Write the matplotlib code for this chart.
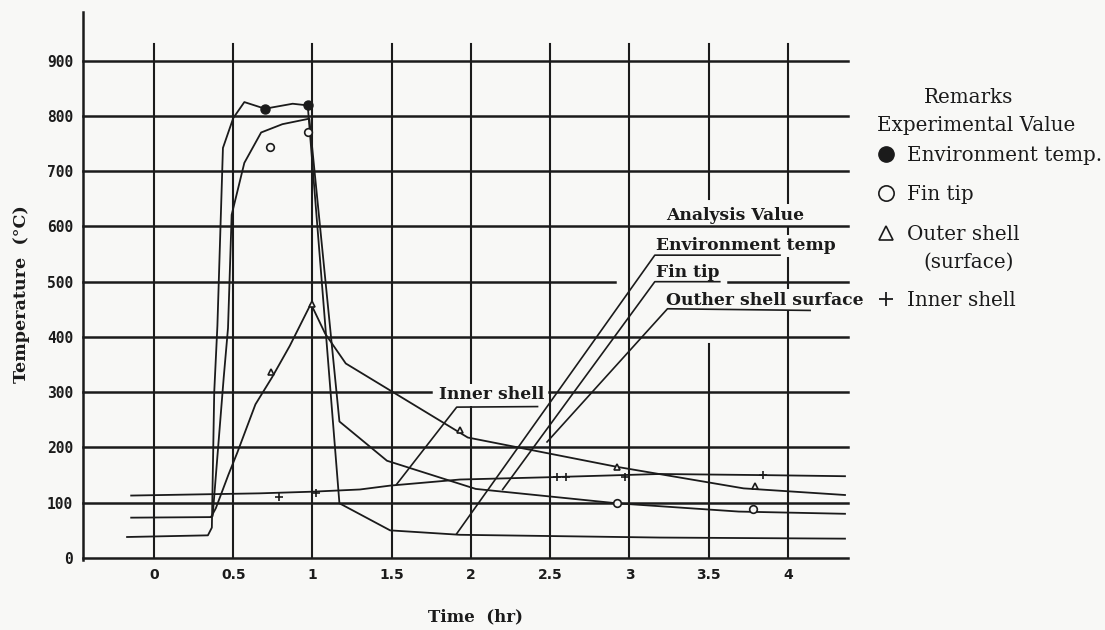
import matplotlib
matplotlib.use("Agg")
import matplotlib.pyplot as plt
from matplotlib.lines import Line2D

# analysis curves: time (hr) / temperature (C)
env_t = [-0.17, 0.34, 0.365, 0.38, 0.40, 0.435, 0.50, 0.57, 0.70, 0.875, 0.97, 1.17, 1.49, 1.93, 3.19, 4.36]
env_T = [38, 41, 55, 300, 420, 742, 796, 825, 813, 822, 819, 99, 50, 42, 37, 35]

fin_t = [-0.144, 0.355, 0.37, 0.44, 0.467, 0.49, 0.57, 0.676, 0.81, 0.98, 1.17, 1.47, 2.03, 2.92, 3.69, 4.36]
fin_T = [73, 74, 76, 327, 416, 621, 715, 770, 785, 795, 247, 176, 125, 99, 84, 80]

outer_t = [0.36, 0.39, 0.47, 0.526, 0.577, 0.64, 0.745, 0.857, 0.99, 1.08, 1.21, 1.98, 2.92, 3.72, 4.36]
outer_T = [74, 90, 151, 191, 230, 278, 327, 384, 460, 406, 352, 218, 165, 126, 114]

inner_t = [-0.144, 0.665, 1.0, 1.30, 1.49, 1.93, 2.47, 3.19, 3.84, 4.36]
inner_T = [113, 117, 120, 124, 131, 142, 146, 152, 150, 148]

# experimental values
exp_env_t = [0.70, 0.97]
exp_env_T = [813, 819]
exp_fin_t = [0.73, 0.97, 2.92, 3.78]
exp_fin_T = [744, 771, 99, 89]
exp_outer_t = [0.74, 1.0, 1.93, 2.92, 3.79]
exp_outer_T = [336, 460, 232, 165, 131]
exp_inner_t = [0.79, 1.02, 2.54, 2.60, 2.97, 3.84]
exp_inner_T = [111, 117, 147, 147, 146, 150]

x_ticks = [0, 0.5, 1, 1.5, 2, 2.5, 3, 3.5, 4]
x_labels = ["0", "0.5", "1", "1.5", "2", "2.5", "3", "3.5", "4"]
y_ticks = [0, 100, 200, 300, 400, 500, 600, 700, 800, 900]
y_labels = ["0", "100", "200", "300", "400", "500", "600", "700", "800", "900"]

# labels inside the plot and their leader lines (data coords)
ann_labels = ["Environment temp", "Fin tip", "Outher shell surface"]
ann_text_t = [3.17, 3.17, 3.23]
ann_text_T = [557, 509, 458]
ann_lead_t = [[1.91, 3.16, 3.95], [2.20, 3.16, 3.57], [2.48, 3.24, 4.14]]
ann_lead_T = [[44, 548, 548], [124, 500, 500], [210, 451, 448]]
inner_lead_t = [1.53, 1.91, 2.42]
inner_lead_T = [133, 273, 274]

legend_labels = ["Environment temp.", "Fin tip", "Outer shell", "Inner shell"]

XMIN, XMAX = -0.448, 4.379
YMAX = 988
bg = "#f8f8f6"
ink = "#1b1b1b"
serif = "DejaVu Serif"
lab_fs = 12.3
leg_fs = 14.3

fig = plt.figure(figsize=(11.05, 6.3), dpi=100, facecolor=bg)
ax = fig.add_axes([83 / 1105, 72 / 630, 765 / 1105, 546 / 630])
ax.set_facecolor(bg)
ax.set_xlim(XMIN, XMAX)
ax.set_ylim(0, YMAX)
for s in ax.spines.values():
    s.set_visible(False)

# hand drawn style grid
h_gaps = {300: [(XMIN, 1.75), (2.49, XMAX)], 500: [(XMIN, 2.91), (3.62, XMAX)]}
for v in y_ticks:
    for a, b in h_gaps.get(v, [(XMIN, XMAX)]):
        ax.plot([a, b], [v, v], color=ink, lw=1.8, zorder=4, clip_on=False)
v_gaps = {3.5: [(0, 387), (649, 930)]}
for t in x_ticks:
    for a, b in v_gaps.get(t, [(0, 930)]):
        ax.plot([t, t], [a, b], color=ink, lw=1.5, zorder=1)
ax.plot([XMIN, XMIN], [-4, YMAX], color=ink, lw=1.8, clip_on=False, zorder=4)

ax.set_xticks(x_ticks)
ax.set_xticklabels(x_labels, fontsize=10, fontweight="bold", family="DejaVu Sans")
ax.set_yticks(y_ticks)
ax.set_yticklabels(y_labels, fontsize=10.5, fontweight="bold", family="DejaVu Sans Mono")
ax.tick_params(length=0, pad=7, colors=ink)

# analysis curves
for tt, TT in [(env_t, env_T), (fin_t, fin_T), (outer_t, outer_T), (inner_t, inner_T)]:
    ax.plot(tt, TT, color=ink, lw=1.3, zorder=5)

# experimental markers
ax.plot(exp_env_t, exp_env_T, "o", ms=6.5, color=ink, zorder=6)
ax.plot(exp_fin_t, exp_fin_T, "o", ms=5.5, mfc=bg, mec=ink, mew=1.2, zorder=6)
ax.plot(exp_outer_t, exp_outer_T, "^", ms=5, mfc=bg, mec=ink, mew=1.2, zorder=6)
ax.plot(exp_inner_t, exp_inner_T, "+", ms=6, color=ink, mew=1.2, zorder=6)

# labels and leaders
box = dict(boxstyle="square,pad=0.15", fc=bg, ec="none")
ax.text(3.23, 612, "Analysis Value", fontsize=lab_fs, fontweight="bold", family=serif,
        color=ink, va="baseline", bbox=box, zorder=3)
for lab, tx, ty, lx, ly in zip(ann_labels, ann_text_t, ann_text_T, ann_lead_t, ann_lead_T):
    ax.text(tx, ty, lab, fontsize=lab_fs, fontweight="bold", family=serif, color=ink,
            va="baseline", bbox=box, zorder=3)
    ax.plot(lx, ly, color=ink, lw=1.2, zorder=5, clip_on=False)
ax.text(1.80, 287, "Inner shell", fontsize=lab_fs, fontweight="bold", family=serif, color=ink,
        va="baseline", bbox=box, zorder=3)
ax.plot(inner_lead_t, inner_lead_T, color=ink, lw=1.2, zorder=5)

# axis titles
fig.text(475 / 1105, 1 - 617 / 630, "Time  (hr)", fontsize=12, fontweight="bold",
         family=serif, color=ink, ha="center", va="center")
fig.text(22 / 1105, 1 - 294 / 630, "Temperature  (°C)", fontsize=12.6, fontweight="bold",
         family=serif, color=ink, ha="center", va="center", rotation=90)


# remarks legend (pixel positions of the original page)
def px(x, y):
    return x / 1105, 1 - y / 630


fig.text(*px(969, 103), "Remarks", fontsize=leg_fs, family=serif, color=ink, ha="center", va="baseline")
fig.text(*px(877, 131), "Experimental Value", fontsize=leg_fs, family=serif, color=ink, va="baseline")
leg_y = [161, 200, 240, 306]
leg_mk = [dict(marker="o", ms=11, mfc=ink, mec=ink),
          dict(marker="o", ms=11, mfc="none", mec=ink, mew=1.2),
          dict(marker="^", ms=10, mfc="none", mec=ink, mew=1.2),
          dict(marker="+", ms=10, mec=ink, mew=1.3)]
for lab, y, mk in zip(legend_labels, leg_y, leg_mk):
    mx, my = px(886, y - 7)
    fig.add_artist(Line2D([mx], [my], transform=fig.transFigure, ls="none", **mk))
    fig.text(*px(907, y), lab, fontsize=leg_fs, family=serif, color=ink, va="baseline")
fig.text(*px(923, 268), "(surface)", fontsize=leg_fs, family=serif, color=ink, va="baseline")

fig.savefig("out.png", dpi=100, facecolor=bg)
